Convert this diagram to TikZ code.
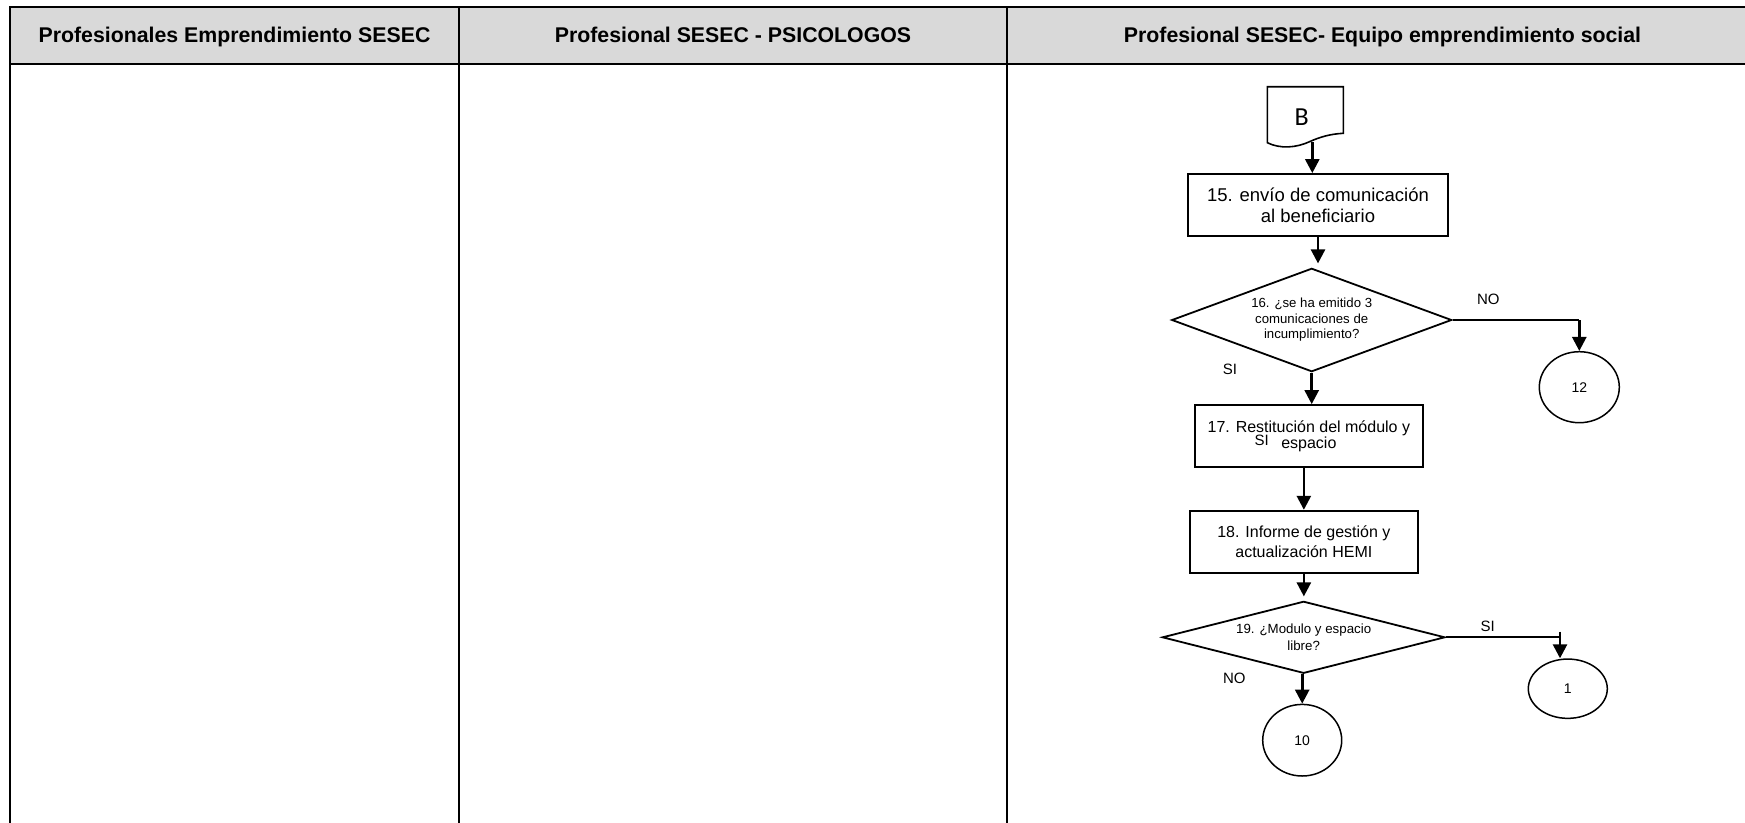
\documentclass[tikz,border=0pt]{standalone}
\usepackage{fontspec}
\setmainfont{Liberation Sans}
\newfontfamily\docfont{Carlito}
\usetikzlibrary{shapes.geometric,arrows.meta}
\definecolor{hdrgray}{HTML}{D9D9D9}
\begin{document}
\begin{tikzpicture}[x=1pt,y=-1pt,
  tline/.style={line width=2.2pt},
  box/.style={draw,line width=1.8pt,rectangle,inner sep=0pt,align=center},
  dia/.style={draw,line width=1.8pt,diamond,inner sep=0pt,align=center},
  circ/.style={draw,line width=1.5pt,ellipse,inner sep=0pt},
  arr/.style={line width=2.6pt,-{Triangle[width=14pt,length=14pt]}},
  conn/.style={line width=2pt},
  lbl/.style={font=\fontsize{15}{15}\selectfont,inner sep=0pt},
  hdr/.style={font=\bfseries\fontsize{21.3}{24}\selectfont,inner sep=0pt,anchor=base}
]
\useasboundingbox (0,0) rectangle (1745,822);
\clip (0,0) rectangle (1745,822);
\fill[white] (0,0) rectangle (1745,822);
% table
\fill[hdrgray] (10,7) rectangle (1760,64);
\draw[tline] (10,840) -- (10,7) -- (1760,7);
\draw[tline] (10,64) -- (1760,64);
\draw[tline] (459,7) -- (459,840);
\draw[tline] (1007,7) -- (1007,840);
\node[hdr] (h1) at (234.5,42.7) {Profesionales Emprendimiento SESEC};
\node[hdr] (h2) at (733,42.7) {Profesional SESEC - PSICOLOGOS};
\node[hdr] (h3) at (1382.5,42.7) {Profesional SESEC- Equipo emprendimiento social};
% document B
\draw[line width=1.6pt] (1267.3,142.7) -- (1267.3,86.7) -- (1343.3,86.7) -- (1343.3,133.3)
  .. controls (1330,134) and (1320,137) .. (1310,141.5)
  .. controls (1296,148) and (1280,149) .. (1267.3,142.7) -- cycle;
\node[font=\docfont\fontsize{26}{26}\selectfont,inner sep=0pt] (B) at (1301.7,117) {B};
\coordinate (Bout) at (1312.3,142);
% nodes
\node[box,minimum width=259.4pt,minimum height=62pt,font=\fontsize{18.5}{20.7}\selectfont] (b15) at (1318,205) {15. envío de comunicación\\al beneficiario};
\node[dia,aspect=2.7,minimum width=280pt,minimum height=103.4pt,font=\fontsize{13.2}{15.5}\selectfont] (d16) at (1311.7,320) {16. ¿se ha emitido 3\\comunicaciones de\\incumplimiento?};
\node[circ,minimum width=80pt,minimum height=71pt,font=\fontsize{14}{14}\selectfont] (c12) at (1579.3,387.2) {12};
\node[box,minimum width=227.7pt,minimum height=62.3pt,font=\fontsize{16}{16.6}\selectfont] (b17) at (1308.85,436.2) {17. Restitución del módulo y\\espacio};
\node[box,minimum width=227.7pt,minimum height=62pt,font=\fontsize{16}{19.3}\selectfont] (b18) at (1303.85,541.7) {18. Informe de gestión y\\actualización HEMI};
\node[dia,aspect=3.9,minimum width=282.7pt,minimum height=72pt,font=\fontsize{13.3}{16.4}\selectfont] (d19) at (1303.65,637.3) {19. ¿Modulo y espacio\\libre?};
\node[circ,minimum width=79pt,minimum height=59.3pt,font=\fontsize{14}{14}\selectfont] (c1) at (1567.8,688.7) {1};
\node[circ,minimum width=79pt,minimum height=71.6pt,font=\fontsize{14}{14}\selectfont] (c10) at (1302.2,740.2) {10};
% labels
\node[lbl] (no16) at (1488.3,299.3) {NO};
\node[lbl] (si16) at (1230,369.3) {SI};
\node[lbl] (si17) at (1261.7,440) {SI};
\node[lbl] (si19) at (1487.7,626.7) {SI};
\node[lbl] (no19) at (1234.3,678.3) {NO};
% connectors
\draw[arr] (Bout) -- (Bout |- b15.north);
\draw[arr,shorten >=4pt] (b15.south) -- (b15.south |- d16.north);
\draw[conn] (d16.east) -- (d16.east -| c12.north);
\draw[arr] (d16.east -| c12.north) -- (c12.north);
\draw[arr] (d16.south) -- (d16.south |- b17.north);
\draw[arr] (b18.north |- b17.south) -- (b18.north);
\draw[arr,shorten >=4pt] (b18.south) -- (b18.south |- d19.north);
\coordinate (k1) at (1560,631.7);
\draw[conn] (d19.east) -- (d19.east -| k1);
\draw[arr] (k1) -- (k1 |- c1.north);
\draw[arr] (c10.north |- d19.south) -- (c10.north);
\end{tikzpicture}
\end{document}
